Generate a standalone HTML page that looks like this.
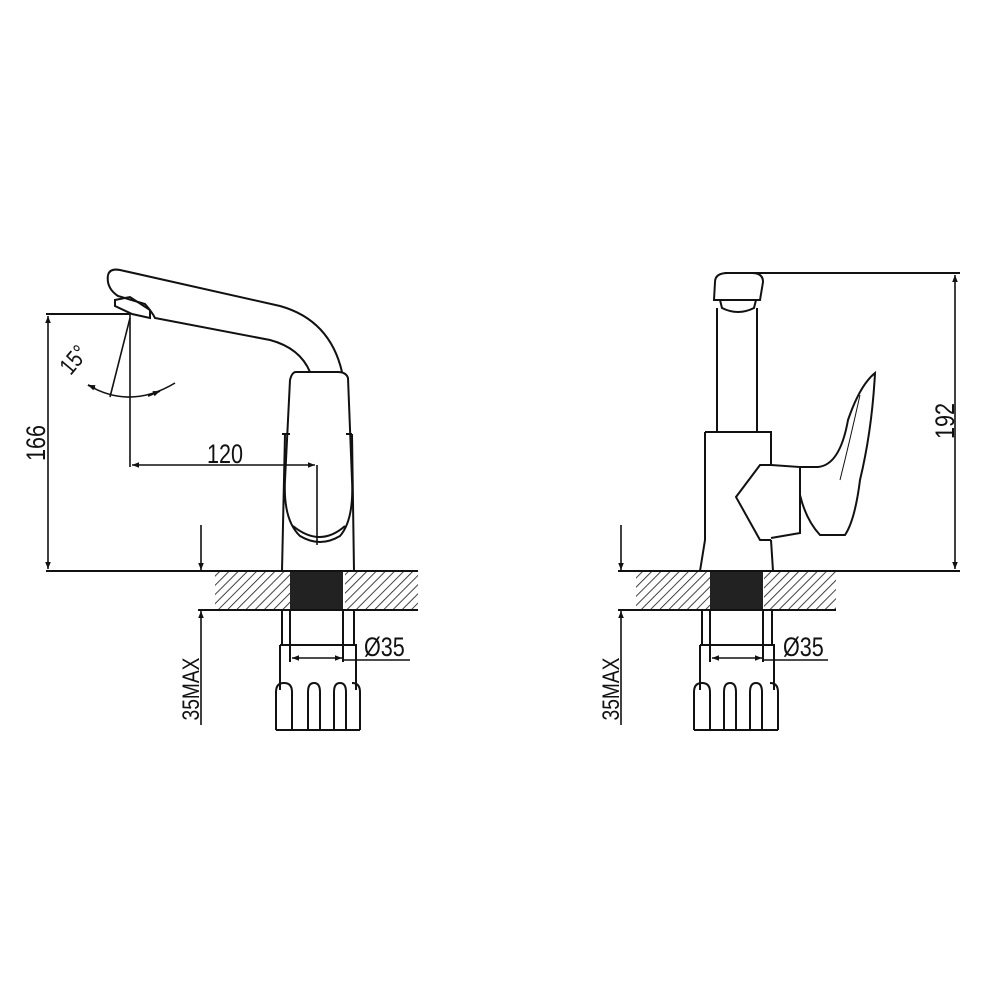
<!DOCTYPE html>
<html><head><meta charset="utf-8"><style>html,body{margin:0;padding:0;background:#fff}svg{display:block}</style></head><body>
<svg width="1000" height="1000" viewBox="0 0 1000 1000" xmlns="http://www.w3.org/2000/svg">
<defs>
<pattern id="h" width="6.5" height="6.5" patternUnits="userSpaceOnUse" patternTransform="rotate(45)">
<line x1="0" y1="0" x2="0" y2="7" stroke="#222" stroke-width="1.7"/>
</pattern>
<marker id="a" viewBox="0 0 10 10" refX="10" refY="5" markerWidth="11" markerHeight="7" orient="auto-start-reverse" markerUnits="userSpaceOnUse"><path d="M0,1 L10,5 L0,9 z" fill="#111"/></marker>
</defs>
<g fill="none" stroke="#111" stroke-width="2" font-family="Liberation Sans, sans-serif">
<!-- LEFT VIEW -->
<rect x="215" y="572" width="75" height="37" fill="url(#h)" stroke="none"/>
<rect x="345" y="572" width="73" height="37" fill="url(#h)" stroke="none"/>
<rect x="290" y="571" width="53" height="39" fill="#222" stroke="none"/>
<line x1="46" y1="571" x2="418" y2="571"/>
<line x1="198" y1="610" x2="418" y2="610"/>
<line x1="46" y1="314" x2="130" y2="314"/>
<line x1="48" y1="316" x2="48" y2="569" stroke-width="1.6" marker-start="url(#a)" marker-end="url(#a)"/>
<text transform="translate(45,443) rotate(-90) scale(0.8,1)" font-size="27" fill="#111" stroke="none" text-anchor="middle">166</text>
<line x1="201" y1="525" x2="201" y2="570" stroke-width="1.6" marker-end="url(#a)"/>
<line x1="201" y1="725" x2="201" y2="611" stroke-width="1.6" marker-end="url(#a)"/>
<text transform="translate(199,689) rotate(-90) scale(0.8,1)" font-size="24" fill="#111" stroke="none" text-anchor="middle">35MAX</text>
<path d="M108,275 Q110,268 120,270 L280,306 Q330,320 342,372"/>
<path d="M108,275 Q106,288 118,296 L145,304 Q152,312 155,318 L270,340 Q300,348 310,372"/>
<path d="M115,300 L130,297 L150,310 L150,318 L132,314 L115,306 z"/>
<path d="M285,434 L282,571"/><path d="M352,434 L354,571"/>
<path d="M282,434 L290,434"/><path d="M346,434 L352,434"/>
<path d="M296,372 Q292,372 290,380 L285,480 Q283,520 300,536 Q320,548 340,536 Q354,520 352,480 L348,378 Q346,372 338,372 z"/>
<path d="M293,526 Q320,548 345,526"/>
<line x1="130" y1="314" x2="130" y2="467" stroke-width="1.6"/>
<line x1="130" y1="318" x2="110" y2="397" stroke-width="1.6"/>
<path d="M88,385 Q130,410 175,383" stroke-width="1.6"/>
<path d="M95,388 L88,385" marker-end="url(#a)"/>
<path d="M148,396 L160,391" marker-end="url(#a)"/>
<text transform="translate(80,365) rotate(-50) scale(0.8,1)" font-size="24" fill="#111" stroke="none" text-anchor="middle">15°</text>
<line x1="132" y1="465" x2="315" y2="465" stroke-width="1.6" marker-start="url(#a)" marker-end="url(#a)"/>
<line x1="317" y1="465" x2="317" y2="545" stroke-width="1.6"/>
<text transform="translate(225,463) scale(0.8,1)" font-size="27" fill="#111" stroke="none" text-anchor="middle">120</text>
<path d="M282,610 L282,645 M354,610 L354,645 M290,610 L290,662 M343,610 L343,662"/>
<path d="M280,645 L356,645 L356,690 M280,645 L280,690"/>
<path d="M292,658 L342,658" stroke-width="1.6" marker-start="url(#a)" marker-end="url(#a)"/>
<line x1="343" y1="660" x2="410" y2="660" stroke-width="1.6"/>
<text transform="translate(364,656) scale(0.8,1)" font-size="27" fill="#111" stroke="none">Ø35</text>
<path d="M276,730 L360,730 M276,730 L276,692 Q276,683 284,683 Q292,683 292,692 L292,730 M308,730 L308,692 Q308,683 314,683 Q320,683 320,692 L320,730 M334,730 L334,692 Q334,683 340,683 Q346,683 346,692 L346,730 M360,730 L360,692 Q360,683 352,683"/>

<!-- RIGHT VIEW -->
<rect x="636" y="572" width="74" height="37" fill="url(#h)" stroke="none"/>
<rect x="764" y="572" width="72" height="37" fill="url(#h)" stroke="none"/>
<rect x="710" y="571" width="53" height="39" fill="#222" stroke="none"/>
<line x1="618" y1="571" x2="960" y2="571"/>
<line x1="618" y1="610" x2="836" y2="610"/>
<line x1="621" y1="525" x2="621" y2="570" stroke-width="1.6" marker-end="url(#a)"/>
<line x1="621" y1="725" x2="621" y2="611" stroke-width="1.6" marker-end="url(#a)"/>
<text transform="translate(619,689) rotate(-90) scale(0.8,1)" font-size="24" fill="#111" stroke="none" text-anchor="middle">35MAX</text>
<line x1="725" y1="273" x2="960" y2="273"/>
<line x1="955" y1="275" x2="955" y2="569" stroke-width="1.6" marker-start="url(#a)" marker-end="url(#a)"/>
<text transform="translate(954,421) rotate(-90) scale(0.8,1)" font-size="27" fill="#111" stroke="none" text-anchor="middle">192</text>
<path d="M715,282 Q715,273 728,273 L752,273 Q763,273 763,282 L760,300 L714,300 z"/>
<path d="M720,300 L722,308 Q738,316 754,308 L756,300"/>
<path d="M717,308 L717,432 M757,308 L757,432"/>
<path d="M705,432 L771,432 L771,465 M705,432 L705,540 L700,571 M771,540 L773,571"/>
<path d="M771,465 L760,465 L736,497 L760,540 L771,540"/>
<path d="M771,465 L800,467 L800,533 L771,538"/>
<path d="M800,467 L818,467 Q840,465 848,420 Q860,385 875,373 Q872,430 860,480 Q855,520 845,535 L820,535 Q806,520 800,495"/>
<path d="M860,395 Q850,440 840,480" stroke-width="1"/>
<path d="M702,610 L702,645 M772,610 L772,645 M710,610 L710,662 M763,610 L763,662"/>
<path d="M700,645 L774,645 L774,690 M700,645 L700,690"/>
<path d="M712,658 L762,658" stroke-width="1.6" marker-start="url(#a)" marker-end="url(#a)"/>
<line x1="763" y1="660" x2="828" y2="660" stroke-width="1.6"/>
<text transform="translate(783,656) scale(0.8,1)" font-size="27" fill="#111" stroke="none">Ø35</text>
<path d="M694,730 L778,730 M694,730 L694,692 Q694,683 702,683 Q710,683 710,692 L710,730 M724,730 L724,692 Q724,683 730,683 Q736,683 736,692 L736,730 M750,730 L750,692 Q750,683 756,683 Q762,683 762,692 L762,730 M778,730 L778,692 Q778,683 770,683"/>
</g>
</svg>
</body></html>
